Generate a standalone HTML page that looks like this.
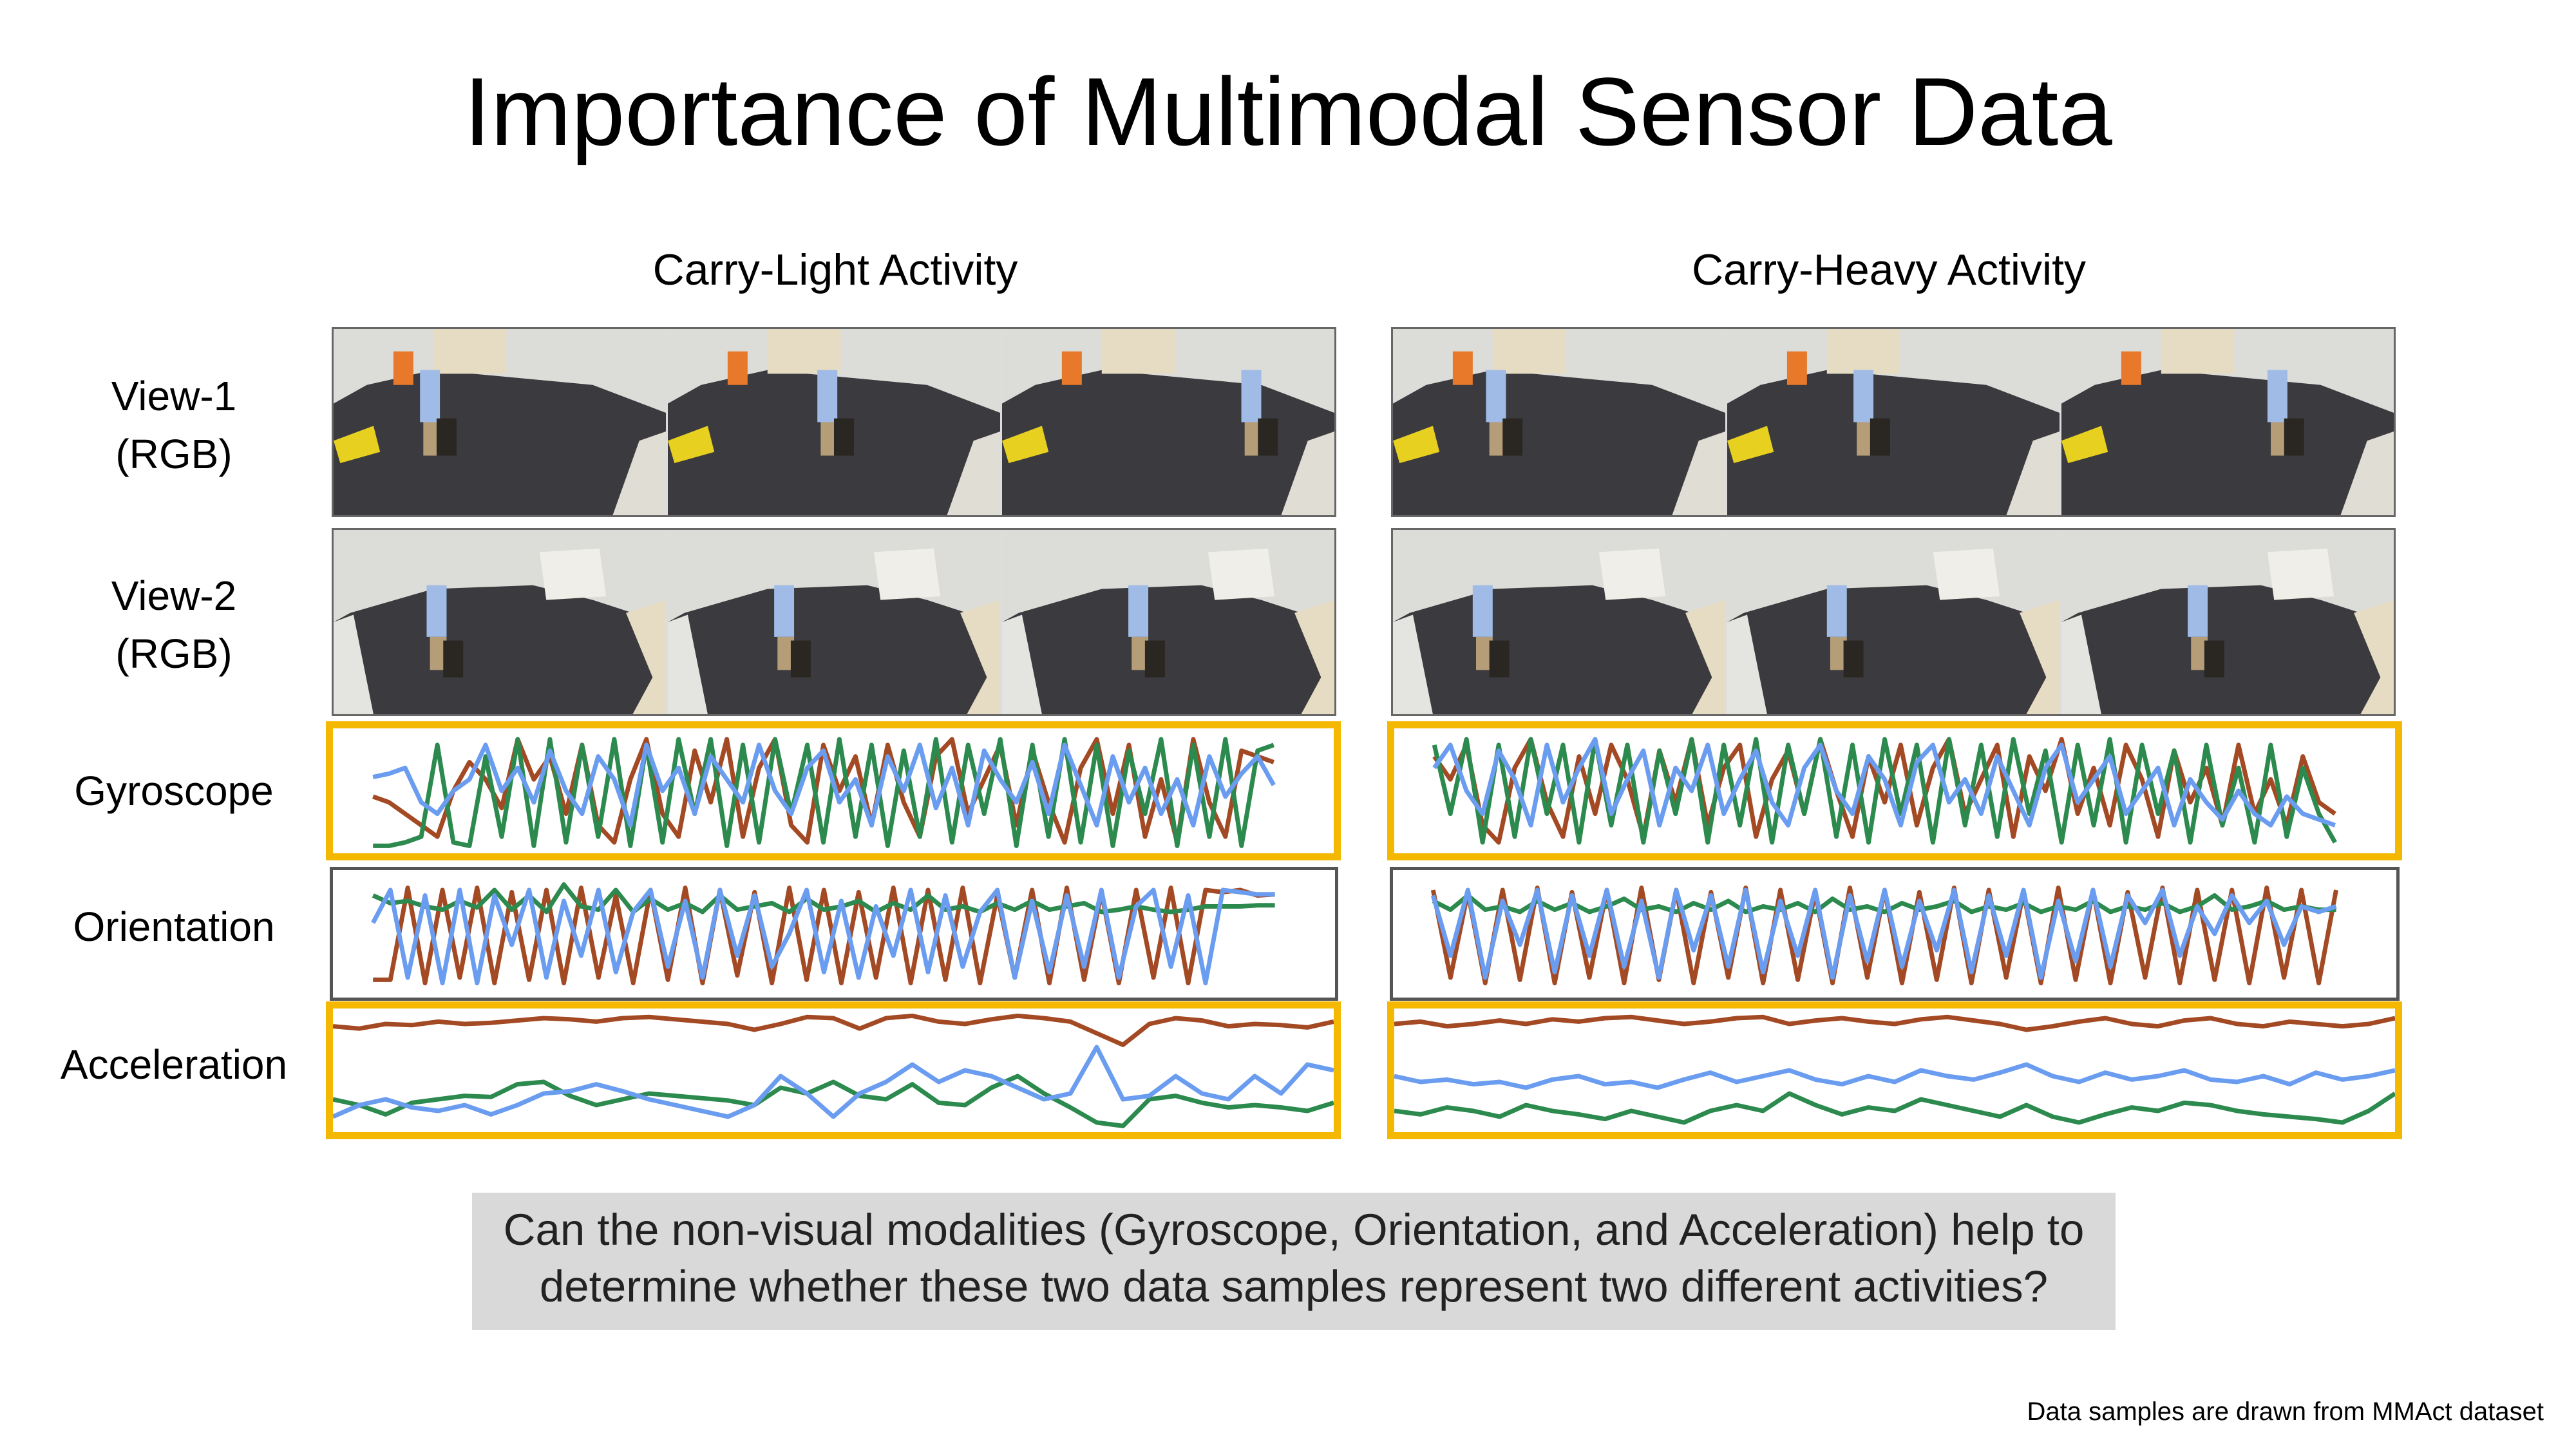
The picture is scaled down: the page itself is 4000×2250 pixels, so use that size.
<!DOCTYPE html>
<html><head><meta charset="utf-8"><style>
html,body{margin:0;padding:0;background:#fff}
body{width:4000px;height:2250px;position:relative;overflow:hidden;font-family:"Liberation Sans","DejaVu Sans",sans-serif}
.t{position:absolute;white-space:nowrap;color:#000;font-family:"Liberation Sans",sans-serif}
.lab{position:absolute;text-align:center;font-size:64px;line-height:90px;width:540px;left:0}
.box{position:absolute;box-sizing:border-box;background:#fff}
.yel{border:11px solid #f5b800}
.gry{border:5px solid #555}
.frames{position:absolute;display:flex;border:3px solid #666;box-sizing:border-box;background:#333}
.frames svg{display:block;flex:1;border-right:3px solid #ddd}
.frames svg:last-child{border-right:none}
</style></head><body>
<div class="t" style="left:0;width:4000px;text-align:center;top:88px;font-size:150px;line-height:170px">Importance of Multimodal Sensor Data</div>
<div class="t" style="left:697px;width:1200px;text-align:center;top:380px;font-size:68px">Carry-Light Activity</div>
<div class="t" style="left:2333px;width:1200px;text-align:center;top:380px;font-size:68px">Carry-Heavy Activity</div>

<div class="lab t" style="top:570px">View-1<br>(RGB)</div>
<div class="lab t" style="top:880px">View-2<br>(RGB)</div>
<div class="lab t" style="top:1183px">Gyroscope</div>
<div class="lab t" style="top:1394px">Orientation</div>
<div class="lab t" style="top:1608px">Acceleration</div>

<div class="frames" id="v1L" style="left:515px;top:508px;width:1560px;height:295px"></div>
<div class="frames" id="v2L" style="left:515px;top:820px;width:1560px;height:292px"></div>
<div class="frames" id="v1R" style="left:2160px;top:508px;width:1560px;height:295px"></div>
<div class="frames" id="v2R" style="left:2160px;top:820px;width:1560px;height:292px"></div>

<div class="box yel" id="gL" style="left:506px;top:1120px;width:1576px;height:216px"></div>
<div class="box gry" id="oL" style="left:512px;top:1346px;width:1566px;height:208px"></div>
<div class="box yel" id="aL" style="left:506px;top:1555px;width:1576px;height:214px"></div>
<div class="box yel" id="gR" style="left:2154px;top:1120px;width:1576px;height:216px"></div>
<div class="box gry" id="oR" style="left:2158px;top:1346px;width:1568px;height:208px"></div>
<div class="box yel" id="aR" style="left:2154px;top:1555px;width:1576px;height:214px"></div>

<div style="position:absolute;left:733px;top:1852px;width:2552px;height:213px;background:#d9d9d9"></div>
<div class="t" style="left:733px;width:2552px;text-align:center;top:1866px;font-size:69px;line-height:88px;color:#222">Can the non-visual modalities (Gyroscope, Orientation, and Acceleration) help to<br>determine whether these two data samples represent two different activities?</div>
<div class="t" style="right:50px;top:2170px;font-size:40px">Data samples are drawn from MMAct dataset</div>

<script>
const gyroL_red=[0.45,0.4,0.3,0.2,0.1,0.5,0.75,0.6,0.35,0.95,0.6,0.8,0.3,0.9,0.2,0.05,0.6,0.95,0.3,0.1,0.85,0.4,0.95,0.1,0.7,0.95,0.2,0.05,0.9,0.5,0.8,0.2,0.9,0.4,0.1,0.8,0.95,0.3,0.6,0.9,0.2,0.85,0.4,0.05,0.7,0.95,0.3,0.9,0.1,0.6,0.05,0.95,0.4,0.1,0.85,0.8,0.75];
const gyroL_green=[0.02,0.02,0.05,0.1,0.9,0.05,0.02,0.8,0.1,0.95,0.02,0.95,0.05,0.9,0.1,0.95,0.02,0.9,0.05,0.95,0.3,0.95,0.02,0.9,0.05,0.95,0.3,0.9,0.05,0.95,0.1,0.9,0.02,0.85,0.1,0.95,0.05,0.9,0.3,0.95,0.02,0.9,0.1,0.95,0.05,0.9,0.02,0.85,0.3,0.95,0.02,0.9,0.1,0.95,0.02,0.85,0.9];
const gyroL_blue=[0.62,0.65,0.7,0.4,0.3,0.5,0.6,0.9,0.5,0.7,0.4,0.85,0.5,0.3,0.8,0.6,0.2,0.9,0.5,0.7,0.3,0.8,0.6,0.4,0.9,0.5,0.3,0.7,0.85,0.4,0.6,0.2,0.8,0.5,0.9,0.35,0.7,0.2,0.85,0.6,0.4,0.75,0.3,0.9,0.55,0.2,0.8,0.4,0.7,0.3,0.6,0.2,0.8,0.45,0.65,0.8,0.55];
const gyroR_red=[0.8,0.6,0.9,0.2,0.05,0.7,0.95,0.4,0.1,0.8,0.3,0.9,0.6,0.1,0.85,0.4,0.95,0.2,0.7,0.9,0.1,0.6,0.85,0.3,0.95,0.5,0.1,0.8,0.4,0.9,0.2,0.7,0.95,0.3,0.6,0.9,0.1,0.8,0.5,0.95,0.3,0.7,0.2,0.9,0.6,0.1,0.85,0.4,0.7,0.2,0.9,0.3,0.6,0.2,0.8,0.4,0.3];
const gyroR_green=[0.9,0.3,0.95,0.05,0.9,0.1,0.95,0.3,0.9,0.05,0.95,0.2,0.9,0.05,0.85,0.3,0.95,0.05,0.9,0.2,0.95,0.05,0.9,0.3,0.95,0.1,0.9,0.05,0.95,0.3,0.9,0.05,0.95,0.2,0.9,0.1,0.95,0.3,0.85,0.05,0.9,0.2,0.95,0.05,0.9,0.3,0.85,0.05,0.9,0.2,0.7,0.05,0.9,0.1,0.7,0.3,0.05];
const gyroR_blue=[0.7,0.9,0.5,0.3,0.85,0.6,0.2,0.9,0.4,0.7,0.95,0.3,0.6,0.85,0.2,0.7,0.5,0.9,0.3,0.6,0.85,0.4,0.2,0.7,0.9,0.5,0.3,0.8,0.6,0.2,0.75,0.9,0.4,0.6,0.3,0.8,0.5,0.2,0.7,0.9,0.4,0.6,0.8,0.3,0.5,0.7,0.2,0.6,0.4,0.25,0.5,0.3,0.2,0.45,0.3,0.25,0.2];
const oriL_red=[0.08,0.08,0.92,0.05,0.9,0.1,0.92,0.05,0.88,0.08,0.9,0.05,0.92,0.1,0.85,0.05,0.9,0.08,0.92,0.05,0.9,0.12,0.88,0.05,0.92,0.08,0.9,0.05,0.88,0.1,0.92,0.05,0.9,0.08,0.92,0.05,0.85,0.1,0.9,0.05,0.92,0.08,0.88,0.05,0.9,0.1,0.92,0.05,0.9,0.88,0.9,0.85,0.86];
const oriL_green=[0.85,0.78,0.8,0.75,0.72,0.8,0.74,0.9,0.72,0.85,0.7,0.95,0.75,0.72,0.9,0.7,0.82,0.72,0.78,0.7,0.85,0.72,0.75,0.78,0.7,0.82,0.72,0.75,0.8,0.7,0.78,0.72,0.85,0.72,0.75,0.7,0.78,0.72,0.8,0.72,0.75,0.78,0.7,0.72,0.75,0.72,0.7,0.72,0.75,0.75,0.75,0.76,0.76];
const oriL_blue=[0.6,0.9,0.1,0.85,0.05,0.9,0.05,0.85,0.4,0.9,0.1,0.8,0.3,0.9,0.15,0.7,0.9,0.2,0.8,0.1,0.9,0.3,0.85,0.2,0.5,0.9,0.15,0.8,0.1,0.75,0.3,0.9,0.15,0.85,0.2,0.7,0.9,0.1,0.8,0.15,0.85,0.2,0.9,0.1,0.75,0.9,0.2,0.85,0.05,0.9,0.88,0.86,0.86];
const oriR_red=[0.9,0.1,0.88,0.05,0.9,0.08,0.92,0.05,0.88,0.1,0.9,0.05,0.92,0.08,0.9,0.05,0.88,0.1,0.92,0.05,0.9,0.08,0.88,0.05,0.92,0.1,0.9,0.05,0.88,0.08,0.92,0.05,0.9,0.1,0.88,0.05,0.92,0.08,0.9,0.05,0.88,0.1,0.92,0.05,0.9,0.08,0.9,0.05,0.92,0.1,0.9,0.05,0.9];
const oriR_green=[0.8,0.72,0.85,0.72,0.75,0.7,0.8,0.72,0.78,0.7,0.75,0.82,0.72,0.75,0.7,0.78,0.72,0.8,0.7,0.75,0.72,0.78,0.7,0.82,0.72,0.75,0.7,0.78,0.72,0.75,0.8,0.7,0.75,0.72,0.78,0.7,0.75,0.72,0.8,0.7,0.75,0.72,0.78,0.7,0.75,0.85,0.72,0.75,0.8,0.72,0.75,0.72,0.72];
const oriR_blue=[0.85,0.3,0.9,0.1,0.8,0.4,0.9,0.15,0.85,0.3,0.9,0.2,0.8,0.1,0.9,0.35,0.85,0.2,0.9,0.15,0.8,0.3,0.9,0.1,0.85,0.25,0.9,0.2,0.8,0.35,0.9,0.15,0.85,0.3,0.9,0.1,0.8,0.25,0.9,0.2,0.85,0.6,0.9,0.3,0.75,0.5,0.85,0.6,0.8,0.4,0.75,0.7,0.75];
const accL_red=[0.88,0.86,0.9,0.89,0.92,0.9,0.91,0.93,0.95,0.94,0.92,0.95,0.96,0.94,0.92,0.9,0.85,0.9,0.96,0.95,0.86,0.95,0.97,0.92,0.9,0.94,0.97,0.95,0.92,0.82,0.72,0.9,0.95,0.93,0.88,0.9,0.89,0.87,0.92];
const accL_green=[0.25,0.2,0.12,0.22,0.25,0.28,0.27,0.38,0.4,0.28,0.2,0.25,0.3,0.28,0.26,0.24,0.2,0.35,0.3,0.4,0.28,0.25,0.38,0.22,0.2,0.35,0.45,0.3,0.18,0.05,0.02,0.25,0.28,0.22,0.18,0.2,0.18,0.15,0.22];
const accL_blue=[0.1,0.2,0.25,0.18,0.15,0.2,0.12,0.2,0.3,0.32,0.38,0.32,0.25,0.2,0.15,0.1,0.2,0.45,0.3,0.1,0.3,0.4,0.55,0.4,0.5,0.45,0.35,0.25,0.3,0.7,0.25,0.28,0.45,0.3,0.25,0.45,0.3,0.55,0.5];
const accR_red=[0.9,0.92,0.88,0.9,0.93,0.9,0.94,0.92,0.95,0.96,0.93,0.9,0.92,0.95,0.96,0.9,0.93,0.95,0.92,0.9,0.94,0.96,0.93,0.9,0.85,0.88,0.92,0.95,0.9,0.88,0.93,0.95,0.9,0.88,0.92,0.9,0.88,0.9,0.95];
const accR_green=[0.15,0.12,0.18,0.15,0.1,0.2,0.15,0.12,0.08,0.15,0.1,0.05,0.15,0.2,0.15,0.3,0.2,0.12,0.18,0.15,0.25,0.2,0.15,0.1,0.2,0.1,0.05,0.12,0.18,0.15,0.22,0.2,0.15,0.12,0.1,0.08,0.05,0.15,0.3];
const accR_blue=[0.45,0.4,0.42,0.38,0.4,0.35,0.42,0.45,0.38,0.4,0.35,0.42,0.48,0.4,0.45,0.5,0.42,0.38,0.45,0.4,0.5,0.45,0.42,0.48,0.55,0.45,0.4,0.48,0.42,0.45,0.5,0.42,0.4,0.45,0.38,0.48,0.42,0.45,0.5];

const RED='#a34a24',GREEN='#2c8a4e',BLUE='#6a9cf0';
const NS='http://www.w3.org/2000/svg';
function chart(id,series,x0f,x1f,pad){
  const box=document.getElementById(id);
  const W=box.clientWidth,H=box.clientHeight;
  const svg=document.createElementNS(NS,'svg');
  svg.setAttribute('width',W);svg.setAttribute('height',H);
  svg.style.display='block';
  
  
  box.appendChild(svg);
  const xs=i=>W*x0f+(W*(x1f-x0f))*i;
  const ys=v=>pad+(H-2*pad)*(1-v);
  series.forEach(([vals,col,nm])=>{
    const d=vals.map((v,i)=>(i?'L':'M')+xs(i/(vals.length-1)).toFixed(1)+' '+ys(v).toFixed(1)).join(' ');
    const p=document.createElementNS(NS,'path');
    p.setAttribute('d',d);p.setAttribute('fill','none');p.setAttribute('stroke',col);
    p.setAttribute('stroke-width','7');p.setAttribute('stroke-linejoin','round');
    
    
    svg.appendChild(p);
  });
}
chart('gL',[[gyroL_red,RED,'gyro-x-line'],[gyroL_green,GREEN,'gyro-y-line'],[gyroL_blue,BLUE,'gyro-z-line']],0.04,0.94,8);
chart('gR',[[gyroR_red,RED,'gyro-x-line'],[gyroR_green,GREEN,'gyro-y-line'],[gyroR_blue,BLUE,'gyro-z-line']],0.04,0.94,8);
chart('oL',[[oriL_red,RED,'orientation-x-line'],[oriL_green,GREEN,'orientation-y-line'],[oriL_blue,BLUE,'orientation-z-line']],0.04,0.94,14);
chart('oR',[[oriR_red,RED,'orientation-x-line'],[oriR_green,GREEN,'orientation-y-line'],[oriR_blue,BLUE,'orientation-z-line']],0.04,0.94,14);
chart('aL',[[accL_red,RED,'acceleration-x-line'],[accL_green,GREEN,'acceleration-y-line'],[accL_blue,BLUE,'acceleration-z-line']],0,1,6);
chart('aR',[[accR_red,RED,'acceleration-x-line'],[accR_green,GREEN,'acceleration-y-line'],[accR_blue,BLUE,'acceleration-z-line']],0,1,6);

function frames(id,view,pos){
  const c=document.getElementById(id);
  pos.forEach((px,k)=>{
    const s=document.createElementNS(NS,'svg');
    s.setAttribute('viewBox','0 0 100 100');s.setAttribute('preserveAspectRatio','none');
    
    
    let h='';
    if(view===1){
      h='<rect width="100" height="100" fill="#3b3b3f"/>'+
        '<polygon points="0,0 100,0 100,45 78,30 30,22 10,30 0,40" fill="#dcdcd8"/>'+
        '<polygon points="30,0 52,0 52,24 30,24" fill="#e6dcc4"/>'+
        '<polygon points="18,12 24,12 24,30 18,30" fill="#e8782a"/>'+
        '<polygon points="0,60 12,52 14,66 2,72" fill="#e8d020"/>'+
        '<polygon points="92,60 100,55 100,100 84,100" fill="#e0ddd5"/>';
    }else{
      h='<rect width="100" height="100" fill="#3b3b3f"/>'+
        '<polygon points="0,0 100,0 100,40 90,45 78,38 60,30 30,32 5,45 0,50" fill="#dcdcd8"/>'+
        '<polygon points="0,50 6,46 12,100 0,100" fill="#e4e4e0"/>'+
        '<polygon points="88,45 100,38 100,100 90,100 96,80" fill="#e6dcc4"/>'+
        '<polygon points="62,12 80,10 82,36 64,38" fill="#f0eee8"/>';
    }
    h+='<rect x="'+px+'" y="'+(view===1?22:30)+'" width="6" height="28" fill="#9fbbe6"/>'+
       '<rect x="'+(px+1)+'" y="'+(view===1?50:58)+'" width="5" height="18" fill="#b59d78"/>'+
       '<rect x="'+(px+5)+'" y="'+(view===1?48:60)+'" width="6" height="20" fill="#2a2622"/>';
    s.innerHTML=h;
    c.appendChild(s);
  });
}
frames('v1L',1,[26,45,72]);
frames('v2L',2,[28,32,38]);
frames('v1R',1,[28,38,62]);
frames('v2R',2,[24,30,38]);
</script>
</body></html>
